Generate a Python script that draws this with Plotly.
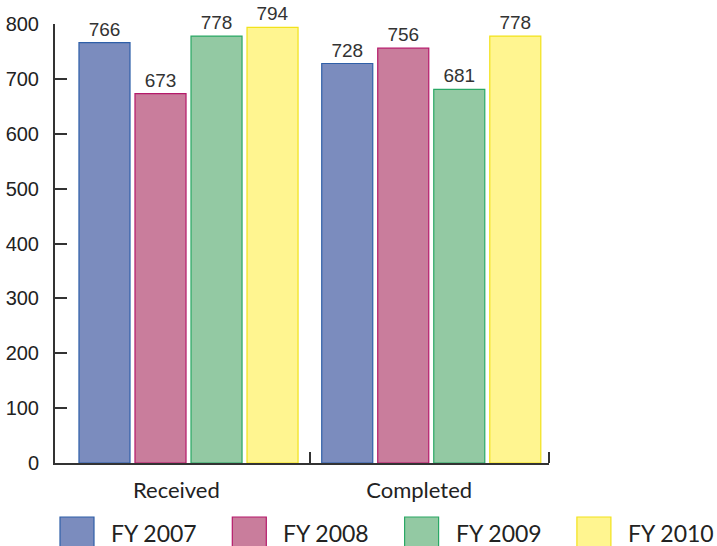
import plotly.graph_objects as go

# Chart data
categories = ["Received", "Completed"]
series_names = ["FY 2007", "FY 2008", "FY 2009", "FY 2010"]
fy2007 = [766, 728]
fy2008 = [673, 756]
fy2009 = [778, 681]
fy2010 = [794, 778]
y_ticks = [0, 100, 200, 300, 400, 500, 600, 700, 800]

series_values = [fy2007, fy2008, fy2009, fy2010]
fill_colors = ["#7b8cbe", "#c97d9c", "#93c9a3", "#fff590"]
edge_colors = ["#2f5fa8", "#b5196a", "#2aa865", "#f2e21a"]

W, H = 717, 546
M_L, M_R, M_T, M_B = 55, 168, 24, 83
AXIS_COLOR = "#333333"

x_pos = list(range(len(categories)))
x_range = [-0.55, 1.485]
label_shift = -0.05  # category labels sit slightly left of the bar groups

fig = go.Figure()
for name, vals, fc, ec in zip(series_names, series_values, fill_colors, edge_colors):
    fig.add_trace(go.Bar(
        name=name,
        x=x_pos,
        y=vals,
        marker=dict(color=fc, line=dict(color=ec, width=1.2)),
        text=vals,
        texttemplate="%{text}",
        textposition="outside",
        textfont=dict(family="Liberation Sans, Arial, sans-serif", size=19, color="#333333"),
        cliponaxis=False,
        showlegend=False,
    ))

# Custom legend with large swatches, placed under the category labels
plot_w = W - M_L - M_R
plot_h = H - M_T - M_B


def px_x(px):
    return (px - M_L) / plot_w


def px_y(py):
    return (H - M_B - py) / plot_h


shapes = []
annotations = []
legend_left = 60
legend_step = 172.3
for i, (name, fc, ec) in enumerate(zip(series_names, fill_colors, edge_colors)):
    x0 = legend_left + i * legend_step
    shapes.append(dict(
        type="rect", xref="paper", yref="paper",
        x0=px_x(x0), x1=px_x(x0 + 34), y0=px_y(550), y1=px_y(517),
        fillcolor=fc, line=dict(color=ec, width=1.2), layer="above",
    ))
    annotations.append(dict(
        xref="paper", yref="paper", x=px_x(x0 + 49), y=px_y(533),
        text=name, showarrow=False, xanchor="left", yanchor="middle",
        font=dict(family="Lato, Noto Sans, sans-serif", size=23, color="#222222"),
    ))

fig.update_layout(
    template="none",
    width=W, height=H,
    margin=dict(l=M_L, r=M_R, t=M_T, b=M_B, pad=0),
    paper_bgcolor="white", plot_bgcolor="white",
    barmode="group", bargap=0.077, bargroupgap=0.089,
    shapes=shapes, annotations=annotations,
    showlegend=False,
)

fig.update_xaxes(
    automargin=False,
    range=x_range,
    tickmode="array", tickvals=[x + label_shift for x in x_pos], ticktext=categories,
    ticks="", showgrid=False, zeroline=False,
    showline=True, linecolor=AXIS_COLOR, linewidth=2,
    tickfont=dict(family="Lato, Noto Sans, sans-serif", size=22, color="#222222"),
    ticklabelstandoff=7,
    minor=dict(tickmode="array", tickvals=[0.5, 1.484], ticks="inside",
               ticklen=11, tickwidth=2, tickcolor=AXIS_COLOR, showgrid=False),
)

fig.update_yaxes(
    automargin=False,
    range=[0, 800],
    tickmode="array", tickvals=y_ticks,
    ticks="inside", ticklen=12, tickwidth=2, tickcolor=AXIS_COLOR,
    showgrid=False, zeroline=False,
    showline=True, linecolor=AXIS_COLOR, linewidth=2,
    tickfont=dict(family="Liberation Sans, Arial, sans-serif", size=20, color="#222222"),
    ticklabelstandoff=10,
)

fig.write_html("out.html")
